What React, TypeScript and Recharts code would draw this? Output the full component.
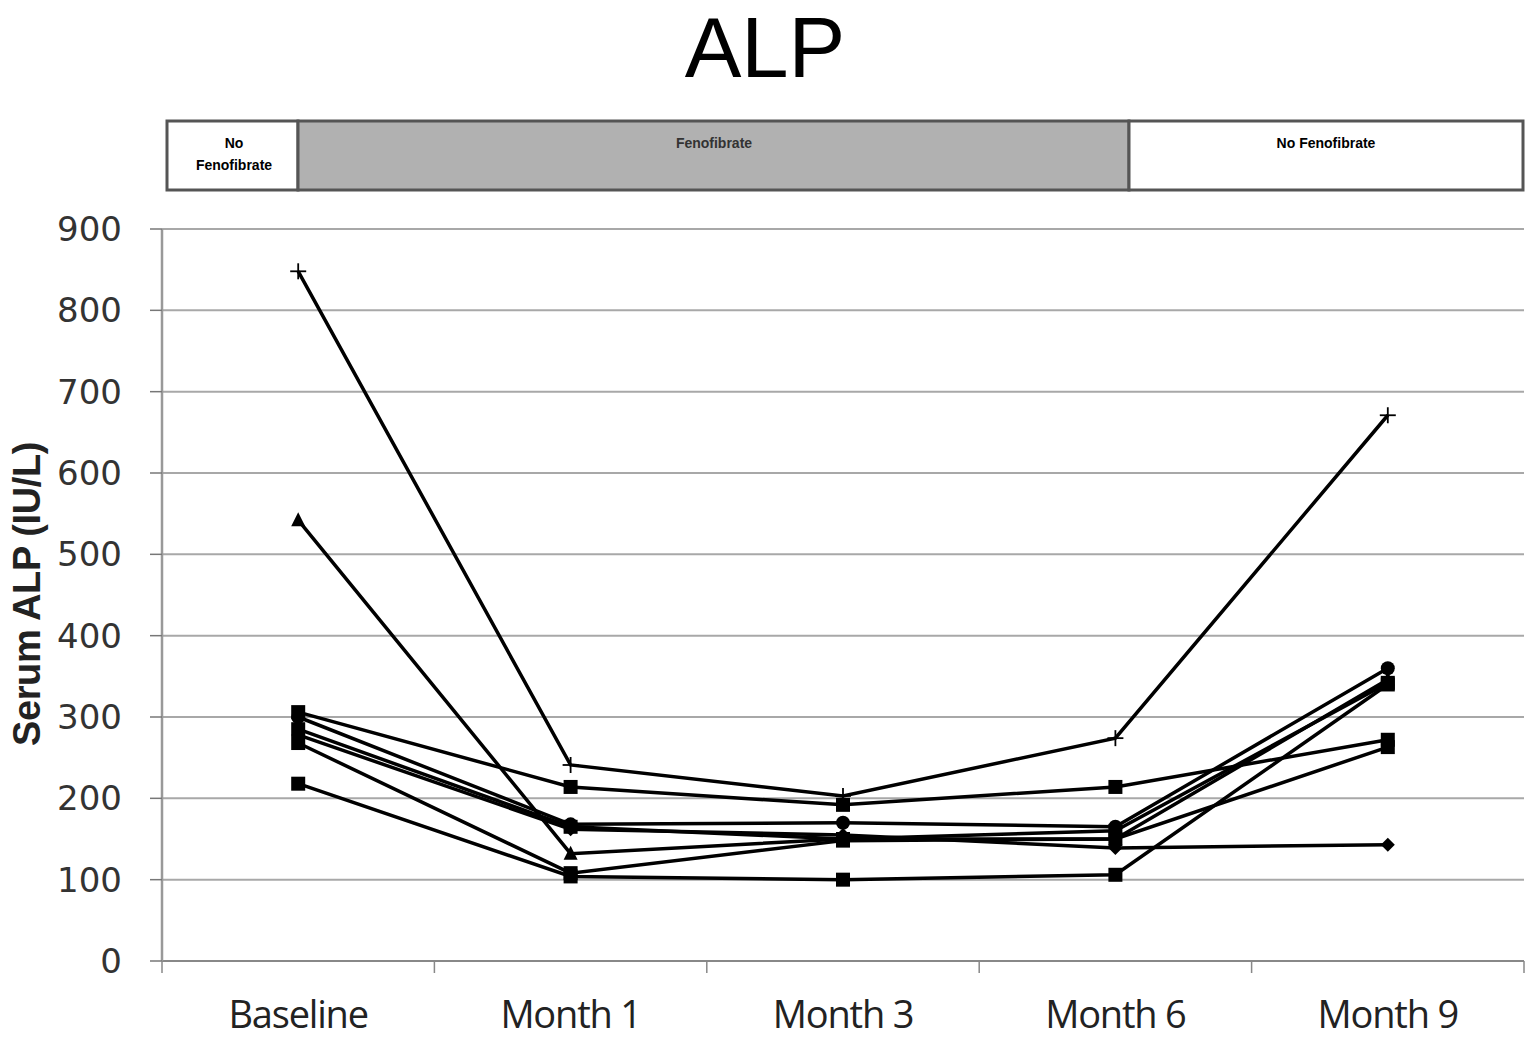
import React from 'react';
import { LineChart, Line, XAxis, YAxis, CartesianGrid } from 'recharts';

const categories = ['Baseline', 'Month 1', 'Month 3', 'Month 6', 'Month 9'];
const yTicks = [0, 100, 200, 300, 400, 500, 600, 700, 800, 900];

const seriesPlus = [848, 241, 203, 274, 671];
const seriesTriangle = [542, 132, 150, 150, 346];
const seriesA = [306, 214, 192, 214, 272];
const seriesCircle = [300, 168, 170, 165, 360];
const seriesB = [285, 165, 150, 160, 342];
const seriesDiamond = [278, 162, 155, 139, 143];
const seriesC = [268, 108, 148, 150, 263];
const seriesD = [218, 104, 100, 106, 340];

const seriesList = [
  { key: 'plus', values: seriesPlus, marker: 'plus' },
  { key: 'tri', values: seriesTriangle, marker: 'triangle' },
  { key: 'a', values: seriesA, marker: 'square' },
  { key: 'circ', values: seriesCircle, marker: 'circle' },
  { key: 'b', values: seriesB, marker: 'square' },
  { key: 'dia', values: seriesDiamond, marker: 'diamond' },
  { key: 'c', values: seriesC, marker: 'square' },
  { key: 'd', values: seriesD, marker: 'square' },
];

const data = categories.map((name, i) => {
  const row: any = { name };
  seriesList.forEach((s) => { row[s.key] = s.values[i]; });
  return row;
});

const W = 1525;
const H = 1038;
const PLOT_LEFT = 162;
const PLOT_RIGHT = 1524;
const BAND = (PLOT_RIGHT - PLOT_LEFT) / categories.length;

function makeDot(kind: string) {
  return (props: any) => {
    const { cx, cy, index } = props;
    if (cx == null || cy == null) return <g key={index} />;
    if (kind === 'plus') {
      return (
        <g key={index}>
          <line x1={cx - 8} y1={cy} x2={cx + 8} y2={cy} stroke="#000" strokeWidth={1.8} />
          <line x1={cx} y1={cy - 8} x2={cx} y2={cy + 8} stroke="#000" strokeWidth={1.8} />
        </g>
      );
    }
    if (kind === 'triangle') {
      return <polygon key={index} points={`${cx},${cy - 8} ${cx + 7},${cy + 6} ${cx - 7},${cy + 6}`} fill="#000" />;
    }
    if (kind === 'circle') {
      return <circle key={index} cx={cx} cy={cy} r={7} fill="#000" />;
    }
    if (kind === 'diamond') {
      return <polygon key={index} points={`${cx},${cy - 7} ${cx + 7},${cy} ${cx},${cy + 7} ${cx - 7},${cy}`} fill="#000" />;
    }
    return <rect key={index} x={cx - 7} y={cy - 7} width={14} height={14} fill="#000" />;
  };
}

const XTick = (props: any) => {
  const { x, y, payload, index } = props;
  const axisY = y - 8;
  return (
    <g>
      <line x1={x - BAND / 2} y1={axisY} x2={x - BAND / 2} y2={axisY + 12} stroke="#888" strokeWidth={1.5} />
      {index === categories.length - 1 && (
        <line x1={x + BAND / 2} y1={axisY} x2={x + BAND / 2} y2={axisY + 12} stroke="#888" strokeWidth={1.5} />
      )}
      <text x={x} y={axisY + 67} textAnchor="middle" fontFamily="'Open Sans', 'Liberation Sans', sans-serif" fontSize={38} fill="#222" letterSpacing={-1.2}>
        {payload.value}
      </text>
    </g>
  );
};

const YLabel = (props: any) => {
  const { viewBox } = props;
  const cy = viewBox.y + viewBox.height / 2 - 1;
  const cx = 27;
  return (
    <text
      x={cx}
      y={cy}
      transform={`rotate(-90, ${cx}, ${cy})`}
      textAnchor="middle"
      dominantBaseline="central"
      fontFamily="'Liberation Sans', sans-serif"
      fontWeight="bold"
      fontSize={38}
      fill="#222"
      letterSpacing={-0.4}
    >
      Serum ALP (IU/L)
    </text>
  );
};

const Banner = () => (
  <svg width={W} height={200} style={{ position: 'absolute', left: 0, top: 0 }}>
    <text x={765} y={77} textAnchor="middle" fontFamily="'Liberation Sans', sans-serif" fontSize={85} fill="#000">ALP</text>
    <rect x={167} y={121} width={131} height={69} fill="#fff" stroke="#555" strokeWidth={3} />
    <rect x={298} y={121} width={831} height={69} fill="#b1b1b1" stroke="#555" strokeWidth={3} />
    <rect x={1129} y={121} width={394} height={69} fill="#fff" stroke="#555" strokeWidth={3} />
    <text x={234} y={148} textAnchor="middle" fontFamily="'Liberation Sans', sans-serif" fontWeight="bold" fontSize={14} fill="#000">No</text>
    <text x={234} y={170} textAnchor="middle" fontFamily="'Liberation Sans', sans-serif" fontWeight="bold" fontSize={14} fill="#000">Fenofibrate</text>
    <text x={714} y={148} textAnchor="middle" fontFamily="'Liberation Sans', sans-serif" fontWeight="bold" fontSize={14} fill="#333">Fenofibrate</text>
    <text x={1326} y={148} textAnchor="middle" fontFamily="'Liberation Sans', sans-serif" fontWeight="bold" fontSize={14} fill="#000">No Fenofibrate</text>
  </svg>
);

export default function App() {
  return (
    <div style={{ position: 'absolute', left: 0, top: 0, width: W, height: H, background: '#fff', overflow: 'hidden' }}>
      <Banner />
      <div style={{ position: 'absolute', left: 0, top: 0 }}>
        <LineChart width={W} height={H} data={data} margin={{ top: 229, right: W - PLOT_RIGHT, bottom: 0, left: 0 }}>
          <CartesianGrid horizontal vertical={false} stroke="#a8a8a8" strokeWidth={2} />
          <XAxis
            dataKey="name"
            scale="band"
            height={H - 961}
            axisLine={{ stroke: '#888', strokeWidth: 2 }}
            tickLine={false}
            tick={<XTick />}
            interval={0}
          />
          <YAxis
            domain={[0, 900]}
            ticks={yTicks}
            width={PLOT_LEFT}
            axisLine={{ stroke: '#999', strokeWidth: 2.5 }}
            tickLine={{ stroke: '#777', strokeWidth: 1.5 }}
            tickSize={12}
            tickMargin={28}
            tick={{ fill: '#333', fontSize: 34, fontFamily: "'DejaVu Sans', sans-serif" }}
            interval={0}
            label={<YLabel />}
          />
          {seriesList.map((s) => (
            <Line
              key={s.key}
              type="linear"
              dataKey={s.key}
              stroke="#000"
              strokeWidth={3.5}
              dot={makeDot(s.marker)}
              activeDot={false}
              isAnimationActive={false}
            />
          ))}
        </LineChart>
      </div>
    </div>
  );
}
